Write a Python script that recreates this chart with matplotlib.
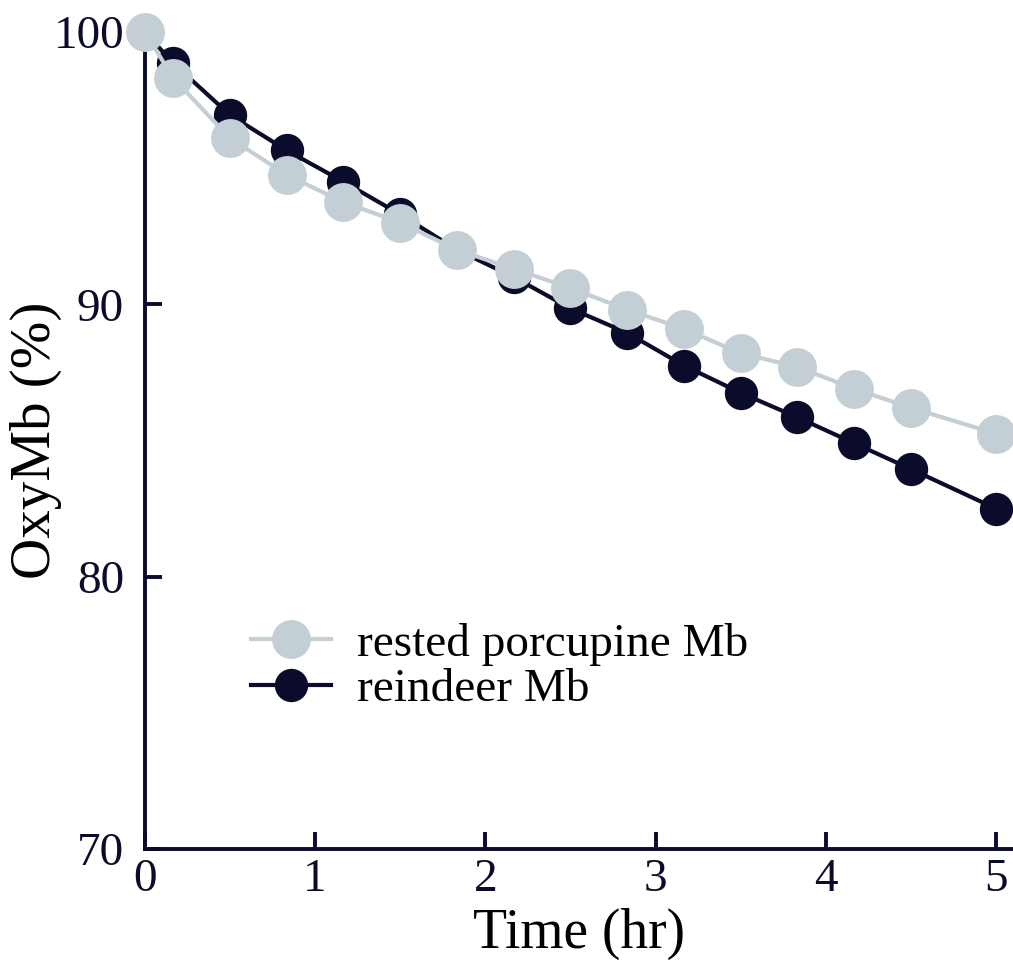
import matplotlib
matplotlib.use("Agg")
import matplotlib.pyplot as plt

# Data (time in hours, OxyMb in %)
time_hr = [0, 1/6, 0.5, 5/6, 7/6, 1.5, 11/6, 13/6, 2.5, 17/6, 19/6, 3.5, 23/6, 25/6, 4.5, 5]
porcupine = [100.0, 98.3, 96.1, 94.75, 93.75, 93.0, 92.0, 91.3, 90.6, 89.8, 89.1, 88.2, 87.7, 86.9, 86.2, 85.25]
reindeer = [100.0, 98.85, 96.95, 95.65, 94.5, 93.3, 92.0, 91.0, 89.85, 88.95, 87.75, 86.75, 85.85, 84.9, 83.95, 82.5]

x_ticks = [0, 1, 2, 3, 4, 5]
y_ticks = [70, 80, 90, 100]

DARK = "#0b0c2c"
LIGHT = "#c3cfd5"

plt.rcParams["font.family"] = ["Liberation Serif", "DejaVu Serif"]

fig = plt.figure(figsize=(10.13, 9.67), dpi=100)
ax = fig.add_axes([0.143, 0.122, 0.857, 0.845])

ax.plot(time_hr, reindeer, color=DARK, lw=3.0, marker="o", ms=24,
        markeredgewidth=0, label="reindeer Mb", zorder=3, clip_on=False)
ax.plot(time_hr, porcupine, color=LIGHT, lw=3.0, marker="o", ms=28,
        markeredgewidth=0, label="rested porcupine Mb", zorder=4, clip_on=False)

ax.set_xlim(0, 5.1)
ax.set_ylim(70, 100)
ax.set_xticks(x_ticks)
ax.set_yticks(y_ticks)

for s in ["top", "right"]:
    ax.spines[s].set_visible(False)
for s in ["left", "bottom"]:
    ax.spines[s].set_linewidth(2.8)
    ax.spines[s].set_color(DARK)

ax.tick_params(axis="both", direction="in", length=12, width=2.8, color=DARK,
               labelcolor=DARK, labelsize=34)
ax.tick_params(axis="x", pad=7)
ax.tick_params(axis="y", pad=15)

ax.set_xlabel("Time (hr)", fontsize=40, labelpad=5, color="black")
ax.set_ylabel("OxyMb (%)", fontsize=41, labelpad=-6, color="black")

handles, labels = ax.get_legend_handles_labels()
leg = ax.legend(handles[::-1], labels[::-1], loc="upper left",
                bbox_to_anchor=(0.1, 0.3), frameon=False, fontsize=34,
                handlelength=1.7, handletextpad=0.55, labelspacing=0.05,
                borderaxespad=0)

fig.savefig("out.png", dpi=100)
